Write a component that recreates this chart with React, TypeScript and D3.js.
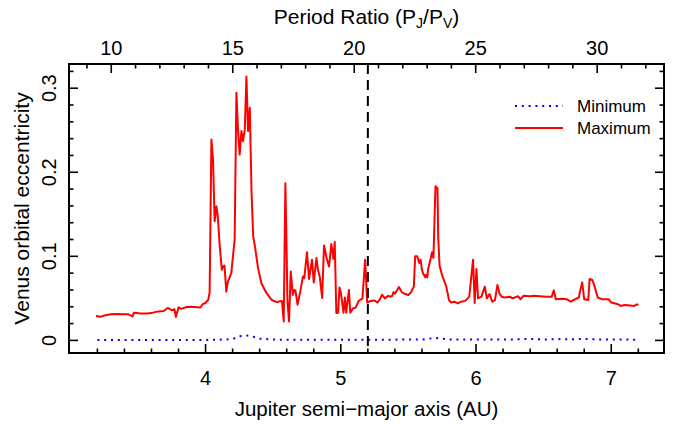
import React from "react";
import * as d3 from "d3";

// ---- data ----
const maxA = [3.19,3.22,3.26,3.30,3.35,3.40,3.43,3.46,3.47,3.52,3.57,3.61,3.65,3.69,3.72,3.75,3.77,3.78,3.80,3.82,3.86,3.89,3.92,3.96,3.98,4.00,4.02,4.03,4.043,4.055,4.067,4.08,4.09,4.105,4.12,4.13,4.14,4.153,4.165,4.19,4.215,4.228,4.24,4.252,4.265,4.277,4.29,4.302,4.314,4.327,4.34,4.352,4.365,4.388,4.413,4.45,4.487,4.51,4.53,4.55,4.565,4.578,4.59,4.60,4.605,4.617,4.63,4.645,4.655,4.665,4.68,4.70,4.72,4.73,4.75,4.765,4.787,4.80,4.82,4.83,4.845,4.862,4.876,4.895,4.913,4.93,4.945,4.955,4.967,4.98,4.99,5.0,5.02,5.03,5.04,5.06,5.07,5.09,5.11,5.13,5.16,5.18,5.195,5.22,5.25,5.27,5.29,5.305,5.325,5.35,5.37,5.38,5.39,5.40,5.43,5.45,5.47,5.50,5.52,5.54,5.55,5.565,5.58,5.59,5.60,5.61,5.625,5.63,5.64,5.645,5.675,5.685,5.70,5.715,5.72,5.73,5.75,5.78,5.80,5.815,5.84,5.865,5.89,5.92,5.95,5.978,5.99,6.003,6.015,6.04,6.065,6.08,6.10,6.12,6.14,6.158,6.175,6.19,6.21,6.25,6.27,6.31,6.33,6.35,6.40,6.43,6.47,6.52,6.56,6.575,6.59,6.63,6.67,6.70,6.72,6.76,6.77,6.785,6.80,6.83,6.84,6.86,6.875,6.90,6.93,6.98,7.00,7.05,7.07,7.10,7.14,7.17,7.19,7.20];
const maxE = [0.029,0.028,0.030,0.031,0.0315,0.031,0.031,0.0286,0.033,0.032,0.032,0.033,0.0345,0.035,0.0386,0.036,0.037,0.028,0.0393,0.0375,0.0397,0.040,0.0397,0.039,0.0433,0.0445,0.0485,0.057,0.239,0.215,0.1417,0.1595,0.148,0.112,0.084,0.088,0.089,0.058,0.070,0.080,0.120,0.2945,0.250,0.221,0.249,0.237,0.251,0.314,0.249,0.2767,0.1755,0.124,0.112,0.086,0.068,0.0564,0.0485,0.0465,0.0455,0.0467,0.047,0.0226,0.187,0.10,0.048,0.0226,0.082,0.054,0.06,0.059,0.0425,0.058,0.076,0.074,0.1048,0.073,0.096,0.069,0.098,0.085,0.075,0.0505,0.113,0.098,0.088,0.1147,0.097,0.117,0.0326,0.033,0.063,0.057,0.033,0.051,0.033,0.060,0.033,0.038,0.039,0.0465,0.050,0.096,0.045,0.047,0.0475,0.045,0.049,0.0544,0.050,0.053,0.052,0.053,0.0575,0.0555,0.0635,0.0575,0.0555,0.054,0.0575,0.064,0.100,0.100,0.092,0.096,0.084,0.079,0.075,0.078,0.075,0.084,0.1048,0.098,0.1834,0.181,0.124,0.089,0.077,0.064,0.048,0.045,0.046,0.044,0.046,0.047,0.052,0.096,0.0445,0.085,0.050,0.052,0.064,0.050,0.055,0.046,0.048,0.066,0.055,0.052,0.051,0.052,0.050,0.0525,0.049,0.053,0.0525,0.053,0.0525,0.052,0.052,0.0595,0.049,0.0495,0.049,0.046,0.048,0.051,0.059,0.069,0.049,0.048,0.073,0.072,0.065,0.051,0.049,0.049,0.045,0.043,0.041,0.042,0.0415,0.041,0.043,0.042];

const minA = [3.2,3.3,3.4,3.5,3.6,3.7,3.8,3.9,4.0,4.1,4.2,4.25,4.3,4.35,4.4,4.5,4.6,4.7,4.8,4.9,5.0,5.1,5.2,5.3,5.4,5.5,5.6,5.65,5.7,5.75,5.8,5.9,6.0,6.1,6.2,6.3,6.4,6.5,6.6,6.7,6.8,6.9,7.0,7.1,7.2];
const minE = [0.0005,0.0005,0.0005,0.0005,0.0005,0.0005,0.0005,0.0005,0.0006,0.0008,0.0015,0.005,0.006,0.0045,0.002,0.001,0.0008,0.0008,0.0008,0.0008,0.0008,0.0008,0.0008,0.0008,0.0009,0.001,0.001,0.002,0.003,0.002,0.001,0.001,0.001,0.001,0.001,0.0012,0.0018,0.001,0.0016,0.0012,0.0018,0.0012,0.001,0.001,0.0008];

const bottomTicks = [4, 5, 6, 7];
const topTicks = [10, 15, 20, 25, 30];
const yTicks = [0, 0.1, 0.2, 0.3];
const yTickLabels = ["0", "0.1", "0.2", "0.3"];
const markerA = 5.2;

const seriesNames = ["Minimum", "Maximum"];

// ---- layout ----
const W = 678, H = 424;
const L = 69, R = 664, T = 64, B = 353;
const FONT = "'Liberation Sans', Arial, sans-serif";

export default function App() {
  const x = d3.scaleLinear().domain([2.99, 7.39]).range([L, R]);
  const xTop = d3.scaleLinear().domain([8.26, 32.75]).range([L, R]);
  const y = d3.scaleLinear().domain([-0.015, 0.3288]).range([B, T]);

  const line = d3.line<[number, number]>().x(d => x(d[0])).y(d => y(d[1]));
  const maxPts = maxA.map((a, i) => [a, maxE[i]] as [number, number]);
  const minPts = minA.map((a, i) => [a, minE[i]] as [number, number]);

  const maj = 9, mnr = 4.5;
  const bMinor = d3.range(3.2, 7.39, 0.2);
  const tMinor = d3.range(9, 33, 1);
  const yMinor = d3.range(0, 0.33, 0.02);

  const tickStyle = { stroke: "#000", strokeWidth: 1.6 };

  return (
    <svg width={W} height={H} style={{ position: "absolute", left: 0, top: 0, background: "#fff" }}>
      <rect x={0} y={0} width={W} height={H} fill="#fff" />
      {/* data */}
      <path d={line(minPts) || ""} fill="none" stroke="#0000ff" strokeWidth={2} strokeDasharray="2 4.8" />
      <path d={line(maxPts) || ""} fill="none" stroke="#ff0000" strokeWidth={2} strokeLinejoin="round" />
      {/* marker */}
      <line x1={x(markerA)} x2={x(markerA)} y1={T} y2={B} stroke="#000" strokeWidth={2} strokeDasharray="10 6" />

      {/* ticks bottom/top (x) */}
      {bMinor.map((v, i) => {
        const isMaj = Math.abs(v - Math.round(v)) < 1e-6;
        const len = isMaj ? maj : mnr;
        return <line key={"b" + i} x1={x(v)} x2={x(v)} y1={B} y2={B - len} {...tickStyle} />;
      })}
      {tMinor.map((v, i) => {
        const len = v % 5 === 0 ? maj : mnr;
        return <line key={"t" + i} x1={xTop(v)} x2={xTop(v)} y1={T} y2={T + len} {...tickStyle} />;
      })}
      {yMinor.map((v, i) => {
        const isMaj = Math.abs(v * 10 - Math.round(v * 10)) < 1e-6;
        const len = isMaj ? maj : mnr;
        return (
          <g key={"y" + i}>
            <line x1={L} x2={L + len} y1={y(v)} y2={y(v)} {...tickStyle} />
            <line x1={R} x2={R - len} y1={y(v)} y2={y(v)} {...tickStyle} />
          </g>
        );
      })}
      {/* frame */}
      <rect x={L} y={T} width={R - L} height={B - T} fill="none" stroke="#000" strokeWidth={2} />

      {/* tick labels */}
      <g fontFamily={FONT} fontSize={20} fill="#000">
        {bottomTicks.map(v => (
          <text key={"bl" + v} x={x(v)} y={385} textAnchor="middle">{v}</text>
        ))}
        {topTicks.map(v => (
          <text key={"tl" + v} x={xTop(v)} y={55} textAnchor="middle">{v}</text>
        ))}
        {yTicks.map((v, i) => (
          <text key={"yl" + v} transform={`translate(56,${y(v)}) rotate(-90)`} textAnchor="middle">{yTickLabels[i]}</text>
        ))}
      </g>

      {/* axis titles */}
      <g fontFamily={FONT} fill="#000">
        <text x={(L + R) / 2} y={416} textAnchor="middle" fontSize={20.5}>Jupiter semi−major axis (AU)</text>
        <text x={(L + R) / 2} y={24} textAnchor="middle" fontSize={21}>
          Period Ratio (P<tspan fontSize={14} dy={4}>J</tspan><tspan dy={-4}>/P</tspan><tspan fontSize={14} dy={4}>V</tspan><tspan dy={-4}>)</tspan>
        </text>
        <text transform={`translate(29,${(T + B) / 2}) rotate(-90)`} textAnchor="middle" fontSize={21}>Venus orbital eccentricity</text>
      </g>

      {/* legend */}
      <g fontFamily={FONT} fontSize={17} fill="#000">
        <line x1={515} x2={563} y1={106} y2={106} stroke="#0000ff" strokeWidth={2} strokeDasharray="2 4.8" />
        <text x={577} y={112}>{seriesNames[0]}</text>
        <line x1={515} x2={563} y1={128} y2={128} stroke="#ff0000" strokeWidth={2} />
        <text x={577} y={134}>{seriesNames[1]}</text>
      </g>
    </svg>
  );
}
